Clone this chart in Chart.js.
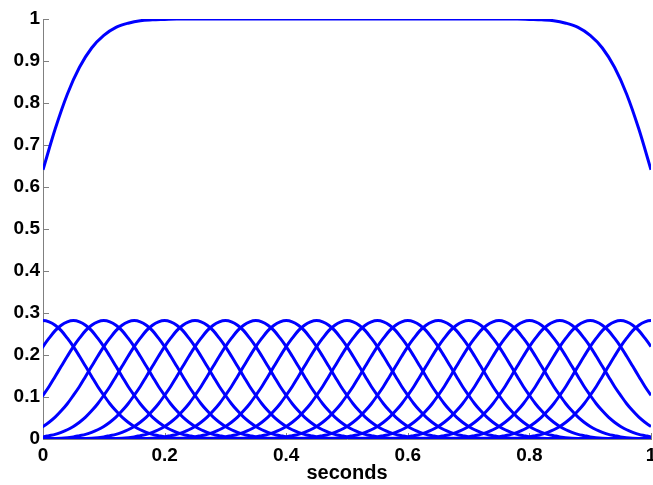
<!DOCTYPE html>
<html>
<head>
<meta charset="utf-8">
<script src="https://cdn.jsdelivr.net/npm/chart.js@4/dist/chart.umd.min.js"></script>
<style>
  html, body { margin: 0; padding: 0; background: #fff; }
  #wrap { width: 653px; height: 485px; }
</style>
</head>
<body>
<div id="wrap"><canvas id="plot"></canvas></div>
<script>
// Data
const bumpCenters = [0, 0.05, 0.1, 0.15, 0.2, 0.25, 0.3, 0.35, 0.4, 0.45, 0.5,
                     0.55, 0.6, 0.65, 0.7, 0.75, 0.8, 0.85, 0.9, 0.95, 1];
// one bump, distance from its centre -> height (same shape for every bump)
const bumpOffsets = [0, 0.01, 0.02, 0.03, 0.04, 0.05, 0.06, 0.07, 0.08, 0.09, 0.1,
                     0.11, 0.12, 0.13, 0.14, 0.15, 0.16, 0.17, 0.18, 0.19, 0.2, 0.22, 0.25, 0.3];
const bumpValues  = [0.282, 0.279, 0.271, 0.258, 0.240, 0.220, 0.197, 0.173, 0.149, 0.125, 0.104,
                     0.084, 0.067, 0.052, 0.040, 0.030, 0.022, 0.016, 0.011, 0.008, 0.005, 0.002, 0.001, 0];
// upper curve, sampled every 0.02 s
const sumTimes = [];
for (let i = 0; i <= 50; i++) sumTimes.push(i / 50);
const sumValues = [0.641, 0.738, 0.821, 0.885, 0.931, 0.961, 0.980, 0.990, 0.996, 0.998, 0.999,
  1, 1, 1, 1, 1, 1, 1, 1, 1, 1, 1, 1, 1, 1, 1, 1, 1, 1, 1, 1, 1, 1, 1, 1, 1, 1, 1, 1, 1,
  0.999, 0.998, 0.996, 0.990, 0.980, 0.961, 0.931, 0.885, 0.821, 0.738, 0.641];
const xTicks = [0, 0.2, 0.4, 0.6, 0.8, 1];
const yTicks = [0, 0.1, 0.2, 0.3, 0.4, 0.5, 0.6, 0.7, 0.8, 0.9, 1];

const BLUE = '#0000ff';
const AXIS = '#808080';

function bumpPoints(c) {
    let pts = [];
    for (let i = bumpOffsets.length - 1; i > 0; i--) pts.push({x: c - bumpOffsets[i], y: bumpValues[i]});
    for (let i = 0; i < bumpOffsets.length; i++) pts.push({x: c + bumpOffsets[i], y: bumpValues[i]});
    return pts;
}

let datasets = [{
    data: sumTimes.map((t, i) => ({x: t, y: sumValues[i]})),
    borderColor: BLUE, borderWidth: 3, pointRadius: 0, cubicInterpolationMode: 'monotone'
}];
bumpCenters.forEach(c => {
    datasets.push({
        data: bumpPoints(c),
        borderColor: BLUE, borderWidth: 3, pointRadius: 0, cubicInterpolationMode: 'monotone'
    });
});

// MATLAB style ticks pointing into the plot
const innerTicks = {
    id: 'innerTicks',
    beforeDatasetsDraw(chart) {
        const ctx = chart.ctx, a = chart.chartArea;
        const xs = chart.scales.x, ys = chart.scales.y;
        ctx.save();
        ctx.strokeStyle = AXIS;
        ctx.lineWidth = 1;
        ctx.beginPath();
        yTicks.forEach(v => {
            const y = Math.round(ys.getPixelForValue(v)) + 0.5;
            ctx.moveTo(a.left, y); ctx.lineTo(a.left + 6, y);
        });
        xTicks.forEach(v => {
            const x = Math.round(xs.getPixelForValue(v)) + 0.5;
            ctx.moveTo(x, a.bottom); ctx.lineTo(x, a.bottom - 6);
        });
        ctx.stroke();
        ctx.restore();
    }
};

const font = {family: 'Liberation Sans, Arial, sans-serif', size: 19, weight: 'bold'};
const labelFont = {family: 'Liberation Sans, Arial, sans-serif', size: 20, weight: 'bold'};

new Chart(document.getElementById('plot'), {
    type: 'line',
    data: {datasets: datasets},
    plugins: [innerTicks],
    options: {
        animation: false,
        responsive: true,
        maintainAspectRatio: false,
        layout: {padding: {top: 19, right: 2, left: 0, bottom: 0}},
        plugins: {legend: {display: false}, tooltip: {enabled: false}},
        scales: {
            x: {
                type: 'linear', min: 0, max: 1,
                afterBuildTicks: s => { s.ticks = xTicks.map(v => ({value: v})); },
                afterFit: s => { s.height = 46; s.paddingLeft = 0; s.paddingRight = 0; },
                grid: {display: false, drawTicks: false},
                border: {display: true, color: AXIS, width: 1},
                ticks: {color: '#000', font: font, padding: 5, maxRotation: 0,
                        callback: v => String(v)},
                title: {display: true, text: 'seconds', color: '#000', font: labelFont, padding: {top: 0, bottom: 0}}
            },
            y: {
                type: 'linear', min: 0, max: 1,
                afterBuildTicks: s => { s.ticks = yTicks.map(v => ({value: v})); },
                afterFit: s => { s.width = 43; s.paddingTop = 0; s.paddingBottom = 0; },
                grid: {display: false, drawTicks: false},
                border: {display: true, color: AXIS, width: 1},
                ticks: {color: '#000', font: font, padding: 3,
                        callback: v => String(Math.round(v * 10) / 10)}
            }
        }
    }
});
</script>
</body>
</html>
